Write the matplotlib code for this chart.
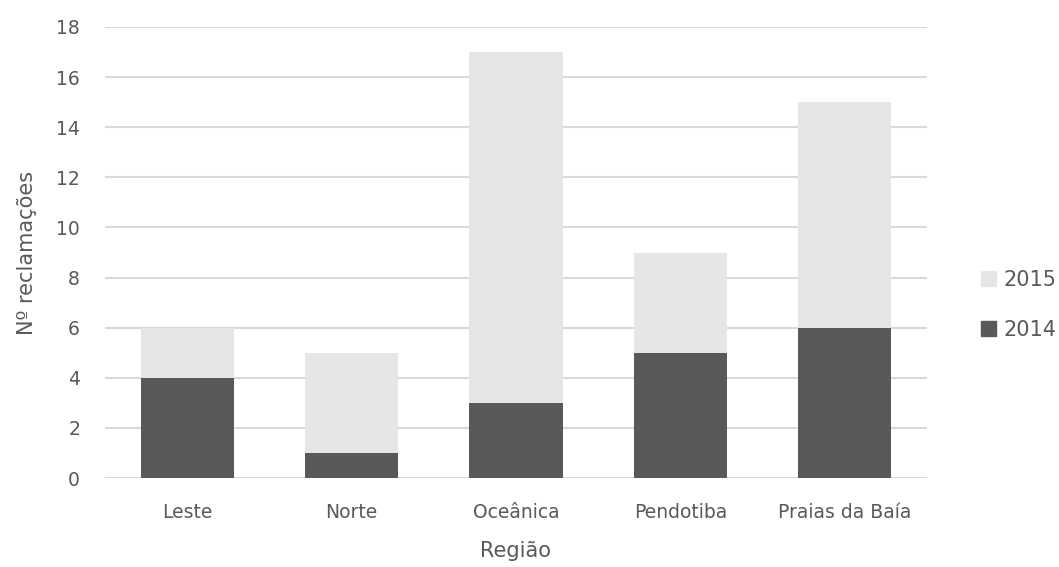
import numpy as np
import matplotlib
matplotlib.use('Agg')
from matplotlib import pyplot as plt
from matplotlib.patches import Patch

#=================================================
#DATA
#=================================================
regioes = ['Leste', 'Norte', 'Oceânica', 'Pendotiba', 'Praias da Baía']
valores_2014 = [4, 1, 3, 5, 6]
valores_2015 = [2, 4, 14, 4, 9]
yticks = [0, 2, 4, 6, 8, 10, 12, 14, 16, 18]

cor_2014 = '#595959'
cor_2015 = '#e6e6e6'
cor_texto = '#595959'

plt.rcParams['font.family'] = ['DejaVu Sans']

#=================================================
#PLOT
#=================================================
fig = plt.figure(figsize=(10.59, 5.67), dpi=100)
ax = fig.add_axes([105/1059, 89/567, 822/1059, 451/567])

x = np.arange(len(regioes))
largura = 0.566
ax.bar(x, valores_2014, width=largura, color=cor_2014, zorder=3)
ax.bar(x, valores_2015, width=largura, bottom=valores_2014, color=cor_2015, zorder=3)

ax.set_xlim(-0.5, len(regioes) - 0.5)
ax.set_ylim(0, 18)
ax.set_yticks(yticks)
ax.set_xticks(x)
ax.set_xticklabels(regioes)
ax.grid(axis='y', color='#d9d9d9', linewidth=1.5, zorder=0)
ax.tick_params(length=0, labelsize=13.5, colors=cor_texto)
ax.tick_params(axis='y', pad=18)
ax.tick_params(axis='x', pad=18)
for s in ax.spines.values():
    s.set_visible(False)

ax.set_xlabel('Região', fontsize=15, color=cor_texto, labelpad=14)
ax.set_ylabel('Nº reclamações', fontsize=15, color=cor_texto, labelpad=14)

handles = [Patch(color=cor_2015, label='2015'), Patch(color=cor_2014, label='2014')]
fig.legend(handles=handles, loc='center left', bbox_to_anchor=(962/1059, (567-305)/567),
           frameon=False, fontsize=15, labelcolor=cor_texto, handlelength=0.75,
           handleheight=0.75, handletextpad=0.35, labelspacing=1.45)

plt.savefig('out.png', dpi=100)
